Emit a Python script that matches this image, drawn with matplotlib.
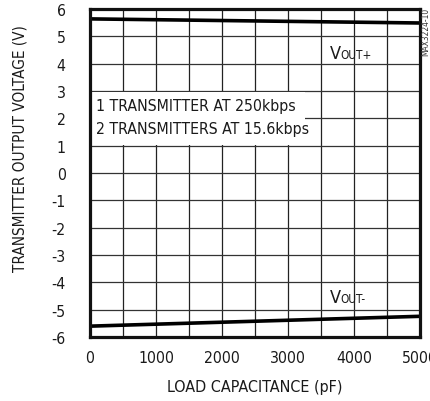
import matplotlib
matplotlib.use("Agg")
import matplotlib.pyplot as plt
from matplotlib.patches import Rectangle
from matplotlib import font_manager

fams = {}
for f in font_manager.fontManager.ttflist:
    fams.setdefault(f.name, set()).add(str(f.stretch))

if 'Liberation Sans Narrow' in fams:
    FAM, STRETCH = 'Liberation Sans Narrow', 'normal'
elif any(s in ('condensed', 'semi-condensed', '400', '500') for s in fams.get('DejaVu Sans', set())):
    FAM, STRETCH = 'DejaVu Sans', 'condensed'
else:
    FAM, STRETCH = 'Liberation Sans', 'normal'

plt.rcParams['font.family'] = [FAM, 'DejaVu Sans']
plt.rcParams['font.stretch'] = STRETCH
plt.rcParams['axes.unicode_minus'] = False

cap_pf = [0, 5000]
vout_pos = [5.64, 5.49]
vout_neg = [-5.60, -5.24]
xticks = [0, 1000, 2000, 3000, 4000, 5000]
yticks = list(range(-6, 7))

TXT = '#1a1a1a'

fig = plt.figure(figsize=(4.31, 4.02), dpi=100)
ax = fig.add_axes([0.2088, 0.159, 0.7657, 0.816])
ax.set_xlim(0, 5000)
ax.set_ylim(-6, 6)

for xv in range(0, 5001, 500):
    ax.axvline(xv, color='#222222', lw=0.9, zorder=1)
for yv in yticks:
    ax.axhline(yv, color='#333333', lw=0.9, zorder=1)

ax.add_patch(Rectangle((0, 1.04), 3258, 1.92, facecolor='white', edgecolor='none', zorder=2))
ax.text(95, 2.47, '1 TRANSMITTER AT 250kbps', fontsize=11.3, va='center', ha='left', zorder=3, color=TXT)
ax.text(95, 1.63, '2 TRANSMITTERS AT 15.6kbps', fontsize=11.3, va='center', ha='left', zorder=3, color=TXT)

ax.plot(cap_pf, vout_pos, color='black', lw=2.6, zorder=4, solid_capstyle='butt')
ax.plot(cap_pf, vout_neg, color='black', lw=2.6, zorder=4, solid_capstyle='butt')

def vlabel(x, y, sub):
    ax.text(x, y, 'V', fontsize=13, va='baseline', ha='left', zorder=3, color=TXT)
    ax.annotate(sub, xy=(x, y), xytext=(7.4, 0), textcoords='offset points',
                fontsize=8.5, va='baseline', ha='left', zorder=3, color=TXT)

vlabel(3636, 4.22, 'OUT+')
vlabel(3636, -4.72, 'OUT-')

ax.set_xticks(xticks)
ax.set_yticks(yticks)
ax.tick_params(axis='both', length=0, labelsize=11.3, colors=TXT)
ax.tick_params(axis='y', pad=17.5)
ax.tick_params(axis='x', pad=9.5)
for s in ax.spines.values():
    s.set_linewidth(2.3)
    s.set_color('#111111')
    s.set_zorder(5)

ax.set_xlabel('LOAD CAPACITANCE (pF)', fontsize=11.5, color=TXT, labelpad=10)
ax.set_ylabel('TRANSMITTER OUTPUT VOLTAGE (V)', fontsize=11, color=TXT)
ax.yaxis.set_label_coords(-0.19, 0.579)

fig.text(0.987, 0.98, 'MAX3224-10', rotation=90, fontsize=6, ha='center', va='top', color='#333333')

fig.savefig('out.png', dpi=100)
